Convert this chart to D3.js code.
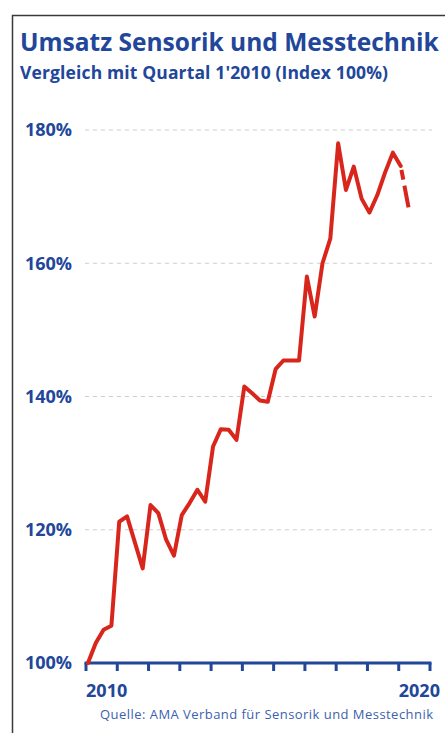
<!DOCTYPE html>
<html>
<head>
<meta charset="utf-8">
<script src="https://cdn.jsdelivr.net/npm/d3@7/dist/d3.min.js"></script>
<style>
  body { margin: 0; background: #fff; }
  svg { display: block; font-family: "Open Sans", sans-serif; }
</style>
</head>
<body>
<div id="chart"></div>
<script>
// quarterly index values, Q1 2010 = 100
var startYear = 2010;
var values = [
  100.0, 103.0, 105.0, 105.6,
  121.2, 122.0, 118.1, 114.2,
  123.7, 122.5, 118.5, 116.1,
  122.2, 124.0, 126.0, 124.2,
  132.5, 135.1, 135.0, 133.5,
  141.5, 140.5, 139.4, 139.2,
  144.1, 145.4, 145.4, 145.4,
  158.0, 152.0, 160.0, 163.7,
  178.0, 171.0, 174.5, 169.7,
  167.6, 170.2, 173.6, 176.6,
  174.6, 168.4
];
var yTicks = [100, 120, 140, 160, 180];
var yearTicks = d3.range(2010, 2022);
var yearLabels = [2010, 2020];

var width = 445,
    height = 733;

var blue = "#21469a",
    red = "#d9261c";

var svg = d3.select("#chart")
  .append("svg")
    .attr("width", width)
    .attr("height", height);

svg.append("rect")
    .attr("width", width)
    .attr("height", height)
    .attr("fill", "#fff");

// frame (top and left edge of the box)
svg.append("path")
    .attr("d", "M12.5," + height + "V15.5H" + width)
    .attr("fill", "none")
    .attr("stroke", "#3a3a3a")
    .attr("stroke-width", 1.5);

var x = d3.scaleLinear().domain([2010, 2021]).range([86, 430]);
var y = d3.scaleLinear().domain([100, 180]).range([663, 130]);

var data = values.map(function(v, i) {
  return { t: startYear + (i + 0.25) / 4, v: v };
});

// titles
svg.append("text")
    .attr("x", 20)
    .attr("y", 51)
    .attr("fill", blue)
    .attr("font-size", 24.5)
    .attr("font-weight", 700)
    .text("Umsatz Sensorik und Messtechnik");

svg.append("text")
    .attr("x", 20)
    .attr("y", 79)
    .attr("fill", blue)
    .attr("font-size", 17.5)
    .attr("font-weight", 700)
    .attr("textLength", 368)
    .attr("lengthAdjust", "spacing")
    .text("Vergleich mit Quartal 1'2010 (Index 100%)");

// grid
svg.append("g")
  .selectAll("line")
  .data(yTicks.filter(function(d) { return d > 100; }))
  .enter().append("line")
    .attr("x1", 85)
    .attr("x2", 432)
    .attr("y1", function(d) { return y(d); })
    .attr("y2", function(d) { return y(d); })
    .attr("stroke", "#d2cccc")
    .attr("stroke-width", 1)
    .attr("stroke-dasharray", "4,4");

svg.append("g")
  .selectAll("text")
  .data(yTicks)
  .enter().append("text")
    .attr("x", 72)
    .attr("y", function(d) { return y(d); })
    .attr("dy", "0.36em")
    .attr("text-anchor", "end")
    .attr("fill", blue)
    .attr("font-size", 18)
    .attr("font-weight", 700)
    .text(function(d) { return d + "%"; });

// x axis
var axis = svg.append("g");

axis.append("line")
    .attr("x1", x(2010) - 1.5)
    .attr("x2", x(2021) + 1.5)
    .attr("y1", y(100))
    .attr("y2", y(100))
    .attr("stroke", blue)
    .attr("stroke-width", 3);

axis.selectAll(".tick")
  .data(yearTicks)
  .enter().append("line")
    .attr("class", "tick")
    .attr("x1", function(d) { return x(d); })
    .attr("x2", function(d) { return x(d); })
    .attr("y1", y(100))
    .attr("y2", y(100) + 8)
    .attr("stroke", blue)
    .attr("stroke-width", 3);

axis.selectAll(".year")
  .data(yearLabels)
  .enter().append("text")
    .attr("class", "year")
    .attr("x", function(d) { return x(d + 0.66); })
    .attr("y", 697)
    .attr("text-anchor", "middle")
    .attr("fill", blue)
    .attr("font-size", 18)
    .attr("font-weight", 700)
    .text(function(d) { return d; });

// line
var line = d3.line()
    .x(function(d) { return x(d.t); })
    .y(function(d) { return y(d.v); });

var n = data.length;

svg.append("path")
    .datum(data.slice(0, n - 1))
    .attr("d", line)
    .attr("fill", "none")
    .attr("stroke", red)
    .attr("stroke-width", 4)
    .attr("stroke-linejoin", "round")
    .attr("stroke-linecap", "round");

svg.append("path")
    .datum(data.slice(n - 2))
    .attr("d", line)
    .attr("fill", "none")
    .attr("stroke", red)
    .attr("stroke-width", 4)
    .attr("stroke-dasharray", "0,4,10,6,20");

// source
svg.append("text")
    .attr("x", 100)
    .attr("y", 719)
    .attr("fill", "#3d5fae")
    .attr("font-size", 13)
    .attr("textLength", 333)
    .attr("lengthAdjust", "spacing")
    .text("Quelle: AMA Verband für Sensorik und Messtechnik");
</script>
</body>
</html>
